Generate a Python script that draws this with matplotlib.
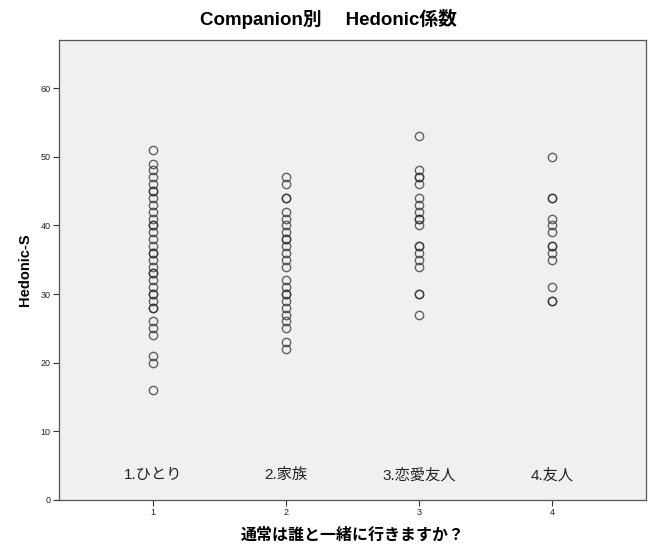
"""Companion別 Hedonic係数 - SPSS-style dot plot recreated with matplotlib."""

import matplotlib
matplotlib.use("Agg")
import matplotlib.pyplot as plt

plt.rcParams["font.family"] = ["Liberation Sans", "Noto Sans CJK JP", "DejaVu Sans"]

# Hedonic-S values per companion group (duplicates read from darker rings)
group_codes = [1, 2, 3, 4]
group_labels = ["1.ひとり", "2.家族", "3.恋愛友人", "4.友人"]
alone = [51] + list(range(49, 27, -1)) + [26, 25, 24, 21, 20, 16] + [45, 40, 36, 33, 30, 28]
family = [47, 46, 44, 44, 42, 41, 40, 39, 38, 37, 36, 35, 34,
          32, 31, 30, 29, 28, 27, 26, 25, 23, 22, 38, 30]
partner = [53, 48, 47, 47, 46, 44, 43, 42, 41, 41, 40, 37, 37, 36, 35, 34, 30, 30, 27]
friends = [50, 44, 44, 41, 40, 39, 37, 37, 36, 35, 31, 29, 29]
groups = [alone, family, partner, friends]

y_ticks = [0, 10, 20, 30, 40, 50, 60]

fig = plt.figure(figsize=(6.52, 5.48), dpi=100)
ax = fig.add_axes([0.0905, 0.0876, 0.9005, 0.8394])
ax.set_facecolor("#f0f0f0")

for code, vals in zip(group_codes, groups):
    ax.plot([code] * len(vals), vals, linestyle="none", marker="o",
            markersize=6.0, markerfacecolor="none", markeredgecolor="#2a2a2a",
            markeredgewidth=1.0, alpha=0.72)

for code, lab in zip(group_codes, group_labels):
    ax.text(code, 3.6, lab, ha="center", va="center", fontsize=11, color="#222222")

ax.set_xlim(0.29, 4.71)
ax.set_ylim(0, 67)
ax.set_xticks(group_codes)
ax.set_yticks(y_ticks)
ax.tick_params(axis="both", labelsize=6.5, length=4, width=0.8, color="#333333",
               labelcolor="#222222", pad=2)

for sp in ax.spines.values():
    sp.set_color("#555555")
    sp.set_linewidth(0.9)

# SPSS centres the title on the whole figure, not the plot frame
fig.text(0.503, 0.966, "Companion別　 Hedonic係数", ha="center", va="center",
         fontsize=13.5, weight="bold")
ax.set_ylabel("Hedonic-S", fontsize=10.5, weight="bold", labelpad=6)
ax.set_xlabel("通常は誰と一緒に行きますか？", fontsize=11.5, weight="bold", labelpad=7)

fig.savefig("out.png", dpi=100)
